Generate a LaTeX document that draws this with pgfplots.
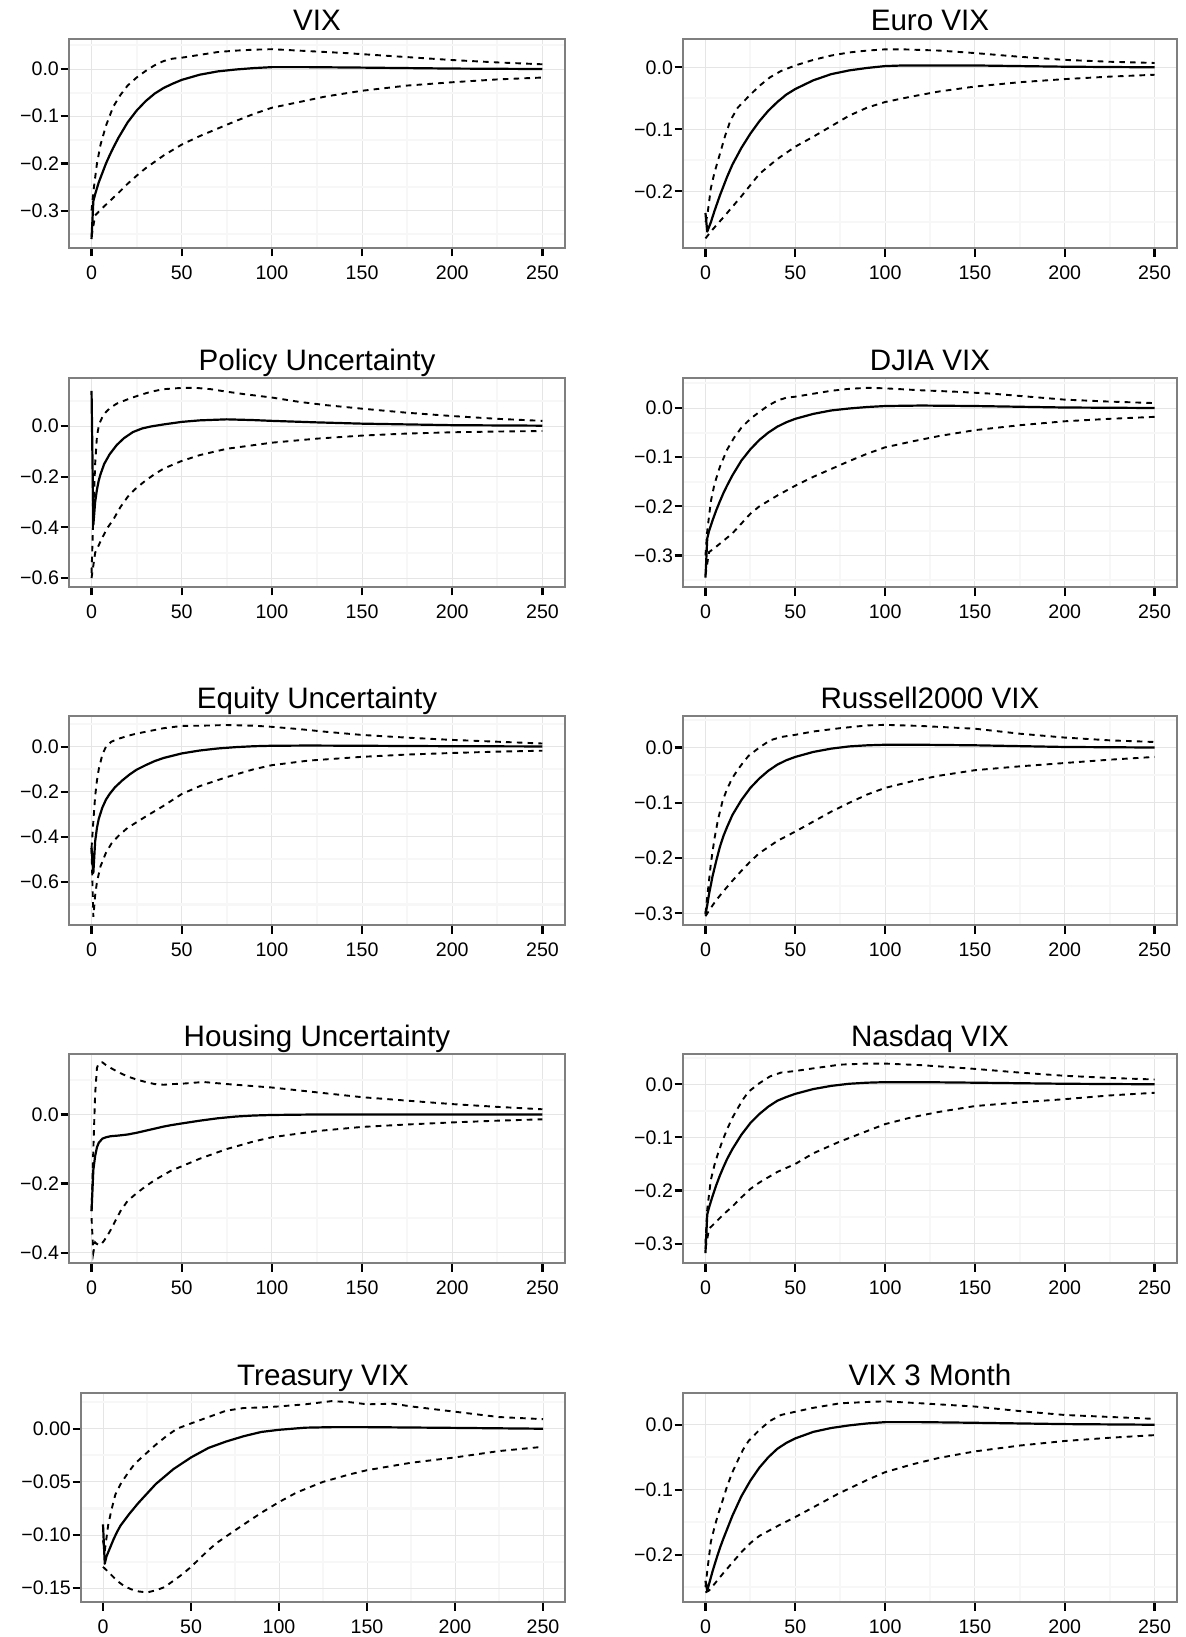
\documentclass[border=0pt]{standalone}
\usepackage{fontspec}
\setmainfont{Liberation Sans}
\usepackage{pgfplots}
\pgfplotsset{compat=1.18}
\definecolor{gridmaj}{HTML}{E5E5E5}
\definecolor{gridmin}{HTML}{F7F7F7}
\definecolor{panelborder}{HTML}{7F7F7F}
\pgfplotsset{
  irf/.style={
    scale only axis, width=248pt, height=104.5pt, anchor=north west,
    xmin=-12.5, xmax=262.5,
    xtick={0,50,...,250}, xticklabels={0,50,100,150,200,250},
    minor xtick={25,75,125,175,225},
    grid=both,
    major grid style={gridmaj, line width=0.43pt},
    minor grid style={gridmin, line width=1.07pt},
    axis line style={panelborder, line width=1.07pt},
    tick align=outside, tick pos=left,
    major tick length=4.25pt, minor tick length=0pt,
    major tick style={black, line width=1.07pt},
    tick label style={font=\fontsize{9.8}{11}\selectfont, inner sep=0pt},
    xticklabel style={yshift=-4.25pt},
    yticklabel style={xshift=-0.6pt},
    title style={font=\fontsize{14.8}{17}\selectfont, at={(0.5,1)}, anchor=base, yshift=-2pt, inner sep=0pt},
    /pgf/number format/assume math mode=true,
  },
  est/.style={black, line width=1.1pt, line join=round},
  band/.style={black, line width=0.95pt, dash pattern=on 2.8pt off 2.6pt},
}

\begin{document}
\begin{tikzpicture}
\path (0,0) rectangle (592.5pt,-818.5pt);

% ---- row 1
\begin{axis}[irf, at={(34.5pt,-19.5pt)}, title={VIX},
  ymin=-0.379, ymax=0.0636, ytick={-0.3,-0.2,-0.1,0},
  yticklabels={−0.3,−0.2,−0.1,0.0}, minor ytick={-0.35,-0.25,-0.15,-0.05,0.05}]
\addplot[band] coordinates {(0,-0.3) (1,-0.26) (3,-0.2) (5,-0.16) (8,-0.12) (12,-0.08) (16,-0.055) (20,-0.035) (25,-0.018) (30,-0.004) (35,0.008) (40,0.017) (45,0.022) (50,0.024) (60,0.030) (70,0.036) (80,0.039) (90,0.041) (100,0.042) (120,0.038) (140,0.034) (160,0.029) (180,0.024) (200,0.019) (225,0.014) (250,0.010)};
\addplot[band] coordinates {(0,-0.355) (2,-0.31) (5,-0.298) (10,-0.28) (15,-0.262) (20,-0.243) (25,-0.226) (30,-0.21) (40,-0.183) (50,-0.16) (60,-0.142) (70,-0.126) (80,-0.11) (90,-0.095) (100,-0.082) (115,-0.07) (130,-0.058) (150,-0.046) (175,-0.035) (200,-0.028) (225,-0.022) (250,-0.018)};
\addplot[est] coordinates {(0,-0.36) (1,-0.28) (2,-0.265) (4,-0.24) (6,-0.22) (8,-0.2) (10,-0.183) (12,-0.167) (15,-0.145) (20,-0.113) (25,-0.088) (30,-0.068) (35,-0.052) (40,-0.04) (45,-0.031) (50,-0.023) (60,-0.012) (70,-0.005) (80,-0.001) (90,0.002) (100,0.004) (120,0.004) (150,0.003) (200,0.001) (250,0.0)};
\end{axis}

\begin{axis}[irf, at={(341.5pt,-19.5pt)}, width=247pt, title={Euro VIX},
  ymin=-0.2915, ymax=0.0457, ytick={-0.2,-0.1,0},
  yticklabels={−0.2,−0.1,0.0}, minor ytick={-0.25,-0.15,-0.05}]
\addplot[band] coordinates {(0,-0.25) (1,-0.24) (3,-0.195) (5,-0.17) (8,-0.14) (11,-0.11) (14,-0.085) (18,-0.065) (24,-0.047) (30,-0.03) (36,-0.016) (42,-0.006) (50,0.003) (60,0.012) (70,0.019) (80,0.024) (90,0.027) (100,0.029) (110,0.029) (130,0.027) (150,0.023) (175,0.017) (200,0.012) (225,0.009) (250,0.007)};
\addplot[band] coordinates {(0,-0.276) (3,-0.265) (6,-0.255) (10,-0.242) (15,-0.225) (20,-0.208) (25,-0.19) (30,-0.172) (35,-0.16) (40,-0.148) (50,-0.128) (60,-0.112) (70,-0.095) (80,-0.078) (90,-0.065) (100,-0.056) (115,-0.047) (130,-0.039) (150,-0.031) (175,-0.024) (200,-0.019) (225,-0.015) (250,-0.012)};
\addplot[est] coordinates {(0,-0.235) (1,-0.265) (3,-0.25) (5,-0.232) (8,-0.207) (10,-0.192) (12,-0.177) (15,-0.157) (20,-0.13) (25,-0.107) (30,-0.087) (35,-0.07) (40,-0.056) (45,-0.044) (50,-0.035) (60,-0.021) (70,-0.011) (80,-0.005) (90,-0.001) (100,0.002) (110,0.003) (130,0.003) (150,0.003) (200,0.001) (250,0.0)};
\end{axis}

% ---- row 2
\begin{axis}[irf, at={(34.5pt,-189pt)}, title={Policy Uncertainty},
  ymin=-0.635, ymax=0.189, ytick={-0.6,-0.4,-0.2,0},
  yticklabels={−0.6,−0.4,−0.2,0.0}, minor ytick={-0.5,-0.3,-0.1,0.1}]
\addplot[band] coordinates {(0,-0.58) (1,-0.35) (2,-0.15) (3,-0.04) (4,0.0) (5,0.02) (6,0.035) (8,0.055) (10.5,0.072) (14,0.088) (20,0.105) (26,0.12) (33,0.135) (40,0.145) (50,0.15) (58,0.15) (66,0.145) (75,0.135) (85,0.125) (100,0.112) (115,0.095) (130,0.082) (150,0.068) (175,0.052) (200,0.039) (225,0.028) (250,0.02)};
\addplot[band] coordinates {(0,-0.6) (1,-0.55) (2,-0.5) (4,-0.47) (6,-0.44) (9,-0.4) (12,-0.37) (16,-0.32) (20,-0.28) (24,-0.25) (30,-0.215) (35,-0.19) (40,-0.168) (50,-0.138) (60,-0.115) (75,-0.09) (100,-0.066) (125,-0.05) (150,-0.038) (175,-0.03) (200,-0.025) (225,-0.022) (250,-0.02)};
\addplot[est] coordinates {(0,0.138) (1,-0.39) (2,-0.3) (3,-0.25) (4,-0.215) (5,-0.19) (7,-0.15) (10,-0.112) (14,-0.075) (18,-0.048) (23,-0.024) (28,-0.01) (33,-0.002) (40,0.006) (45,0.011) (50,0.016) (60,0.022) (75,0.026) (90,0.023) (100,0.02) (125,0.014) (150,0.009) (175,0.006) (200,0.003) (250,0.001)};
\end{axis}

\begin{axis}[irf, at={(341.5pt,-189pt)}, width=247pt, title={DJIA VIX},
  ymin=-0.364, ymax=0.061, ytick={-0.3,-0.2,-0.1,0},
  yticklabels={−0.3,−0.2,−0.1,0.0}, minor ytick={-0.35,-0.25,-0.15,-0.05,0.05}]
\addplot[band] coordinates {(0,-0.3) (1,-0.25) (3,-0.19) (5,-0.155) (8,-0.12) (12,-0.085) (16,-0.06) (20,-0.04) (25,-0.022) (30,-0.008) (35,0.005) (40,0.015) (45,0.021) (50,0.023) (60,0.029) (70,0.035) (80,0.039) (90,0.041) (100,0.04) (120,0.036) (140,0.033) (160,0.029) (180,0.023) (200,0.017) (225,0.013) (250,0.01)};
\addplot[band] coordinates {(0,-0.34) (2,-0.293) (5,-0.285) (10,-0.27) (15,-0.255) (20,-0.235) (25,-0.215) (30,-0.2) (40,-0.178) (50,-0.158) (60,-0.14) (70,-0.124) (80,-0.108) (90,-0.093) (100,-0.08) (115,-0.068) (130,-0.057) (150,-0.045) (175,-0.035) (200,-0.027) (225,-0.022) (250,-0.018)};
\addplot[est] coordinates {(0,-0.345) (1,-0.265) (2,-0.25) (4,-0.228) (6,-0.208) (8,-0.19) (10,-0.173) (12,-0.158) (15,-0.137) (20,-0.107) (25,-0.084) (30,-0.065) (35,-0.05) (40,-0.038) (45,-0.029) (50,-0.022) (60,-0.012) (70,-0.005) (80,-0.001) (90,0.002) (100,0.004) (120,0.005) (150,0.004) (200,0.001) (250,0.0)};
\end{axis}

% ---- row 3
\begin{axis}[irf, at={(34.5pt,-358pt)}, title={Equity Uncertainty},
  ymin=-0.791, ymax=0.136, ytick={-0.6,-0.4,-0.2,0},
  yticklabels={−0.6,−0.4,−0.2,0.0}, minor ytick={-0.7,-0.5,-0.3,-0.1,0.1}]
\addplot[band] coordinates {(0,-0.45) (1,-0.33) (2,-0.22) (3,-0.15) (4,-0.1) (6,-0.035) (8,0.0) (11,0.022) (15,0.035) (20,0.048) (25,0.058) (30,0.066) (40,0.082) (50,0.092) (60,0.093) (75,0.096) (90,0.093) (100,0.088) (115,0.078) (130,0.066) (150,0.052) (175,0.04) (200,0.03) (225,0.022) (250,0.014)};
\addplot[band] coordinates {(0,-0.45) (1,-0.755) (2,-0.66) (3,-0.6) (5,-0.53) (8,-0.47) (11,-0.43) (15,-0.395) (20,-0.36) (25,-0.335) (30,-0.31) (40,-0.262) (50,-0.21) (60,-0.175) (75,-0.135) (90,-0.1) (100,-0.082) (120,-0.062) (150,-0.045) (175,-0.035) (200,-0.028) (225,-0.022) (250,-0.018)};
\addplot[est] coordinates {(0,-0.45) (1,-0.56) (2,-0.42) (3,-0.36) (4,-0.32) (6,-0.27) (8,-0.235) (10,-0.21) (13,-0.18) (17,-0.15) (21,-0.124) (25,-0.102) (30,-0.082) (35,-0.064) (40,-0.05) (50,-0.03) (60,-0.017) (70,-0.008) (80,-0.002) (90,0.002) (100,0.004) (120,0.005) (150,0.004) (200,0.002) (250,0.001)};
\end{axis}

\begin{axis}[irf, at={(341.5pt,-358pt)}, width=247pt, title={Russell2000 VIX},
  ymin=-0.321, ymax=0.057, ytick={-0.3,-0.2,-0.1,0},
  yticklabels={−0.3,−0.2,−0.1,0.0}, minor ytick={-0.25,-0.15,-0.05,0.05}]
\addplot[band] coordinates {(0,-0.3) (1,-0.27) (3,-0.21) (5,-0.165) (7,-0.13) (9.5,-0.097) (12,-0.075) (15,-0.055) (18,-0.04) (21,-0.027) (24,-0.015) (30,0.0) (36,0.013) (42,0.019) (50,0.023) (60,0.029) (75,0.035) (90,0.04) (100,0.041) (120,0.039) (150,0.034) (175,0.025) (200,0.018) (225,0.013) (250,0.01)};
\addplot[band] coordinates {(0,-0.305) (3,-0.29) (6,-0.276) (10,-0.26) (15,-0.241) (20,-0.223) (25,-0.206) (30,-0.191) (40,-0.169) (50,-0.152) (60,-0.134) (70,-0.116) (80,-0.1) (90,-0.085) (100,-0.073) (115,-0.061) (130,-0.051) (150,-0.041) (175,-0.034) (200,-0.028) (225,-0.022) (250,-0.017)};
\addplot[est] coordinates {(0,-0.302) (1,-0.285) (2,-0.265) (4,-0.232) (6,-0.205) (8,-0.18) (10,-0.16) (12,-0.144) (15,-0.122) (20,-0.095) (25,-0.073) (30,-0.056) (35,-0.042) (40,-0.031) (45,-0.023) (50,-0.017) (60,-0.008) (70,-0.002) (80,0.002) (90,0.004) (100,0.005) (120,0.005) (150,0.004) (200,0.001) (250,0.0)};
\end{axis}

% ---- row 4
\begin{axis}[irf, at={(34.5pt,-527pt)}, title={Housing Uncertainty},
  ymin=-0.430, ymax=0.175, ytick={-0.4,-0.2,0},
  yticklabels={−0.4,−0.2,0.0}, minor ytick={-0.3,-0.1,0.1}]
\addplot[band] coordinates {(0,-0.28) (1,-0.1) (2,0.06) (3,0.135) (4,0.148) (6,0.151) (8,0.143) (10.5,0.135) (15,0.122) (20,0.11) (25,0.101) (30,0.094) (35,0.088) (40,0.086) (45,0.088) (50,0.089) (62,0.094) (75,0.088) (90,0.082) (100,0.078) (125,0.064) (150,0.05) (175,0.04) (200,0.03) (225,0.022) (250,0.015)};
\addplot[band] coordinates {(0,-0.3) (1,-0.40) (2,-0.37) (3,-0.375) (5,-0.378) (7,-0.365) (10,-0.34) (13,-0.31) (16,-0.28) (20,-0.25) (25,-0.228) (30,-0.208) (35,-0.19) (44,-0.163) (50,-0.15) (60,-0.128) (75,-0.1) (90,-0.078) (100,-0.066) (125,-0.048) (150,-0.036) (175,-0.029) (200,-0.023) (225,-0.018) (250,-0.014)};
\addplot[est] coordinates {(0,-0.28) (1,-0.16) (2,-0.12) (3,-0.095) (4,-0.082) (6,-0.07) (8,-0.066) (10.5,-0.063) (15,-0.061) (20,-0.058) (25,-0.053) (30,-0.047) (35,-0.041) (40,-0.035) (44,-0.031) (50,-0.026) (60,-0.018) (70,-0.011) (80,-0.006) (90,-0.003) (100,-0.0015) (125,0.0) (250,0.0)};
\end{axis}

\begin{axis}[irf, at={(341.5pt,-527pt)}, width=247pt, title={Nasdaq VIX},
  ymin=-0.3365, ymax=0.057, ytick={-0.3,-0.2,-0.1,0},
  yticklabels={−0.3,−0.2,−0.1,0.0}, minor ytick={-0.25,-0.15,-0.05,0.05}]
\addplot[band] coordinates {(0,-0.3) (1,-0.235) (3,-0.18) (5,-0.152) (7,-0.13) (9.5,-0.106) (12,-0.085) (15,-0.063) (18,-0.045) (21,-0.028) (24,-0.014) (30,0.002) (36,0.015) (42,0.022) (50,0.025) (60,0.03) (75,0.037) (90,0.039) (100,0.039) (120,0.036) (150,0.029) (175,0.022) (200,0.016) (225,0.012) (250,0.009)};
\addplot[band] coordinates {(0,-0.31) (2,-0.272) (5,-0.262) (10,-0.245) (15,-0.23) (20,-0.213) (25,-0.197) (30,-0.185) (40,-0.165) (50,-0.15) (60,-0.13) (74,-0.109) (90,-0.088) (100,-0.075) (115,-0.062) (130,-0.052) (150,-0.041) (175,-0.034) (200,-0.028) (225,-0.021) (250,-0.016)};
\addplot[est] coordinates {(0,-0.318) (1,-0.245) (2,-0.232) (4,-0.21) (6,-0.19) (8,-0.172) (10,-0.156) (12,-0.141) (15,-0.122) (20,-0.095) (25,-0.073) (30,-0.056) (35,-0.042) (40,-0.031) (45,-0.024) (50,-0.018) (60,-0.009) (70,-0.003) (80,0.001) (90,0.003) (100,0.004) (120,0.004) (150,0.003) (200,0.001) (250,0.0)};
\end{axis}

% ---- row 5
\begin{axis}[irf, at={(40.5pt,-696.5pt)}, width=242pt, title={Treasury VIX},
  ymin=-0.163, ymax=0.0336, ytick={-0.15,-0.1,-0.05,0},
  yticklabels={−0.15,−0.10,−0.05,0.00}, minor ytick={-0.125,-0.075,-0.025,0.025}]
\addplot[band] coordinates {(0,-0.105) (1,-0.115) (3,-0.09) (5,-0.075) (7,-0.062) (10,-0.052) (14,-0.042) (18,-0.033) (24,-0.024) (30,-0.015) (36,-0.007) (42,0.0) (50,0.005) (60,0.011) (70,0.017) (80,0.0195) (90,0.02) (100,0.021) (115,0.023) (130,0.026) (140,0.025) (150,0.023) (165,0.0235) (175,0.021) (190,0.018) (200,0.016) (225,0.011) (250,0.009)};
\addplot[band] coordinates {(0,-0.13) (2,-0.133) (5,-0.138) (8,-0.143) (12,-0.148) (16,-0.151) (20,-0.153) (25,-0.154) (30,-0.152) (35,-0.149) (40,-0.143) (45,-0.137) (50,-0.13) (55,-0.122) (60,-0.114) (65,-0.107) (72,-0.099) (80,-0.09) (90,-0.079) (100,-0.069) (110,-0.06) (125,-0.05) (140,-0.043) (150,-0.039) (175,-0.032) (200,-0.027) (225,-0.021) (250,-0.017)};
\addplot[est] coordinates {(0,-0.09) (1,-0.127) (2,-0.12) (4,-0.112) (6,-0.104) (8,-0.097) (10,-0.091) (15,-0.08) (20,-0.07) (25,-0.061) (30,-0.052) (35,-0.045) (40,-0.038) (50,-0.027) (60,-0.018) (70,-0.012) (80,-0.007) (90,-0.003) (100,-0.001) (115,0.001) (130,0.0015) (150,0.0015) (200,0.0008) (250,0.0)};
\end{axis}

\begin{axis}[irf, at={(341.5pt,-696.5pt)}, width=247pt, title={VIX 3 Month},
  ymin=-0.2727, ymax=0.0488, ytick={-0.2,-0.1,0},
  yticklabels={−0.2,−0.1,0.0}, minor ytick={-0.25,-0.15,-0.05}]
\addplot[band] coordinates {(0,-0.25) (1,-0.225) (3,-0.18) (5,-0.158) (7,-0.138) (9.5,-0.117) (12,-0.095) (15,-0.073) (18,-0.055) (21,-0.038) (24,-0.025) (30,-0.008) (36,0.006) (42,0.015) (50,0.02) (60,0.026) (75,0.033) (90,0.035) (100,0.036) (120,0.033) (150,0.028) (175,0.021) (200,0.015) (225,0.012) (250,0.009)};
\addplot[band] coordinates {(0,-0.258) (2,-0.255) (5,-0.245) (10,-0.228) (15,-0.212) (20,-0.196) (25,-0.182) (30,-0.171) (40,-0.156) (50,-0.142) (60,-0.127) (74,-0.106) (90,-0.085) (100,-0.073) (115,-0.061) (130,-0.051) (150,-0.041) (175,-0.032) (200,-0.025) (225,-0.02) (250,-0.016)};
\addplot[est] coordinates {(0,-0.24) (1,-0.255) (2,-0.245) (4,-0.225) (6,-0.207) (8,-0.19) (10,-0.175) (12,-0.161) (15,-0.14) (20,-0.11) (25,-0.086) (30,-0.066) (35,-0.05) (40,-0.037) (45,-0.028) (50,-0.021) (60,-0.011) (70,-0.005) (80,-0.001) (90,0.002) (100,0.004) (120,0.004) (150,0.003) (200,0.001) (250,0.0)};
\end{axis}
\end{tikzpicture}
\end{document}
